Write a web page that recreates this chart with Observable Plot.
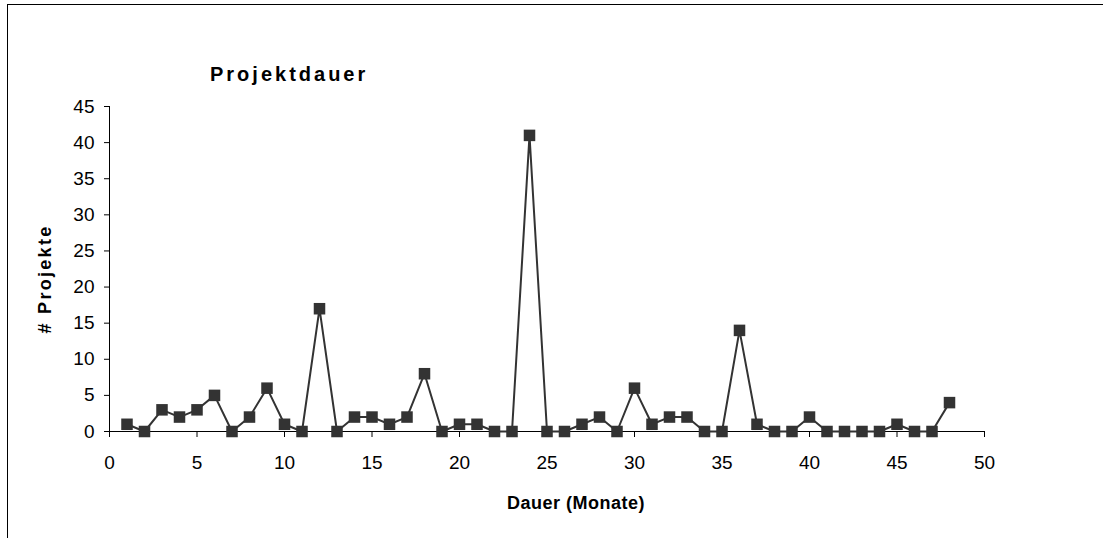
<!DOCTYPE html>
<html>
<head>
<meta charset="utf-8">
<script src="https://cdn.jsdelivr.net/npm/d3@7"></script>
<script src="https://cdn.jsdelivr.net/npm/@observablehq/plot@0.6"></script>
<style>
  body { margin: 0; background: #fff; }
  #wrap { position: relative; width: 1103px; height: 538px; overflow: hidden; font-family: "Liberation Sans", Arial, sans-serif; }
  #border { position: absolute; left: 7px; top: 4px; width: 1200px; height: 700px; border: 1px solid #000; box-sizing: border-box; }
  #title { position: absolute; left: 210px; top: 62px; font-size: 20px; font-weight: bold; letter-spacing: 3px; color: #000; line-height: 24px; }
  #chart { position: absolute; left: 0; top: 0; }
</style>
</head>
<body>
<div id="wrap">
  <div id="border"></div>
  <div id="chart"></div>
  <div id="title"></div>
</div>
<script>
const months = [1,2,3,4,5,6,7,8,9,10,11,12,13,14,15,16,17,18,19,20,21,22,23,24,25,26,27,28,29,30,31,32,33,34,35,36,37,38,39,40,41,42,43,44,45,46,47,48];
const projects = [1,0,3,2,3,5,0,2,6,1,0,17,0,2,2,1,2,8,0,1,1,0,0,41,0,0,1,2,0,6,1,2,2,0,0,14,1,0,0,2,0,0,0,0,1,0,0,4];
const xTicks = [0,5,10,15,20,25,30,35,40,45,50];
const yTicks = [0,5,10,15,20,25,30,35,40,45];
const titleText = "Projektdauer";
const xLabel = "Dauer (Monate)";
const yLabel = "# Projekte";

document.getElementById("title").textContent = titleText;
const data = months.map((m, i) => ({m, v: projects[i]}));

const chart = Plot.plot({
  width: 1103,
  height: 538,
  marginLeft: 109,
  marginRight: 119,
  marginTop: 106,
  marginBottom: 107,
  style: {background: "transparent", fontFamily: "'Liberation Sans', Arial, sans-serif", fontSize: "19px", color: "#000"},
  x: {domain: [0, 50], ticks: xTicks, tickSize: 6, tickPadding: 18, label: xLabel, labelAnchor: "center", labelOffset: 77},
  y: {domain: [0, 45], ticks: yTicks, tickSize: 5, tickPadding: 10, label: yLabel, labelAnchor: "center", labelOffset: 71},
  marks: [
    Plot.ruleY([0], {stroke: "#000", strokeWidth: 1}),
    Plot.ruleX([0], {stroke: "#000", strokeWidth: 1}),
    Plot.line(data, {x: "m", y: "v", stroke: "#333", strokeWidth: 2}),
    Plot.dot(data, {x: "m", y: "v", symbol: "square", r: 6.5, fill: "#333", stroke: "none"})
  ]
});
const xl = chart.querySelector("[aria-label='x-axis label'] text");
const yl = chart.querySelector("[aria-label='y-axis label'] text");
if (xl) { xl.textContent = xLabel; xl.setAttribute("dx", 29); xl.style.letterSpacing = "0.5px"; }
if (yl) { yl.textContent = yLabel; yl.setAttribute("dx", -10); yl.style.letterSpacing = "2.3px"; }
[xl, yl].forEach(t => { if (t) { t.style.fontWeight = "bold"; t.style.fontSize = "18px"; } });
document.getElementById("chart").appendChild(chart);
</script>
</body>
</html>
